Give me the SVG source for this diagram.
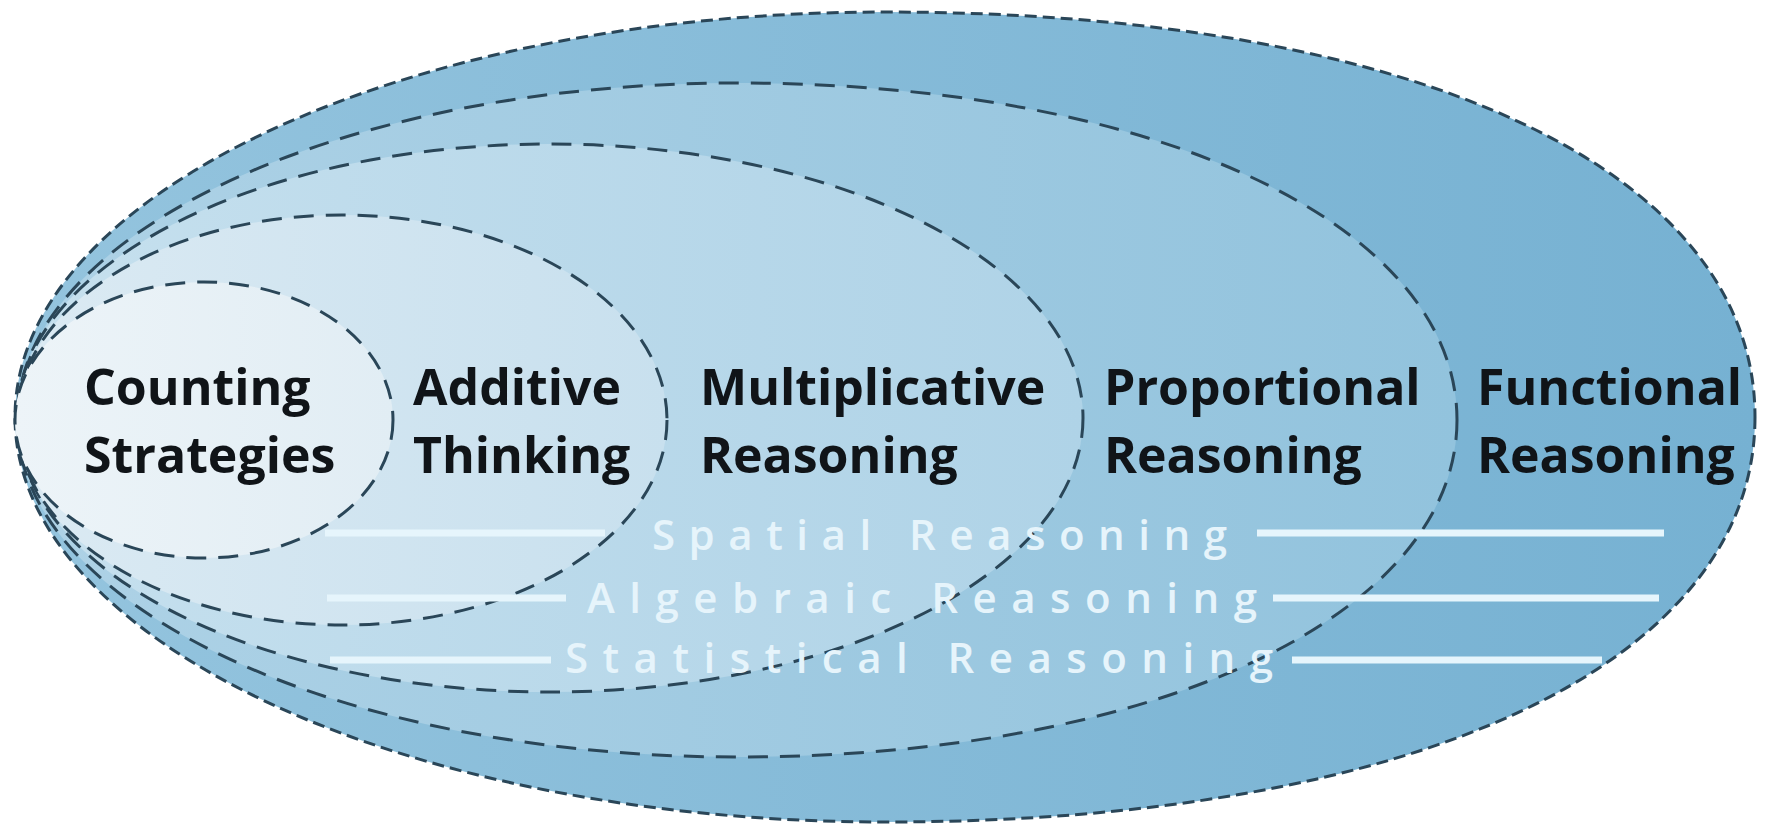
<svg xmlns="http://www.w3.org/2000/svg" width="1765" height="825" viewBox="0 0 1765 825">
<defs>
<linearGradient id="g1" x1="0" y1="0" x2="1" y2="0"><stop offset="0" stop-color="#94c4de"/><stop offset="1" stop-color="#76b1d2"/></linearGradient>
<linearGradient id="g2" x1="0" y1="0" x2="1" y2="0"><stop offset="0" stop-color="#aed2e6"/><stop offset="1" stop-color="#92c3dd"/></linearGradient>
<linearGradient id="g3" x1="0" y1="0" x2="1" y2="0"><stop offset="0" stop-color="#c6e0ee"/><stop offset="1" stop-color="#afd3e7"/></linearGradient>
<linearGradient id="g4" x1="0" y1="0" x2="1" y2="0"><stop offset="0" stop-color="#dbeaf3"/><stop offset="1" stop-color="#c8e0ee"/></linearGradient>
<linearGradient id="g5" x1="0" y1="0" x2="1" y2="0"><stop offset="0" stop-color="#edf4f8"/><stop offset="1" stop-color="#e1edf4"/></linearGradient>
</defs>
<style>
.ring{stroke:#2a4658;stroke-width:3;stroke-dasharray:20 12;}
.outer{stroke:#2a4658;stroke-width:3;stroke-dasharray:12 6;}
.rim{fill:none;stroke:#ffffff;stroke-opacity:0.35;stroke-width:8;}
.lbl{font-family:"Open Sans","Noto Sans","DejaVu Sans",sans-serif;font-weight:700;font-size:50px;fill:#101418;}
.strand{font-family:"Open Sans","Noto Sans","DejaVu Sans",sans-serif;font-weight:600;font-size:42px;fill:#e6f4fb;}
.band{stroke:#e6f5fc;stroke-width:7;stroke-linecap:butt;}
</style>
<rect width="1765" height="825" fill="#ffffff"/>
<g id="functional">
<path class="rim" d="M 1749,417 C 1749,660 1412,816 885,816 C 407,816 21,637 21,417 C 21,197 407,18 885,18 C 1412,18 1749,174 1749,417 Z"/>
<path class="outer" fill="url(#g1)" d="M 1755,417 C 1755,664 1415.7,822 885,822 C 404.5,822 15,640.7 15,417 C 15,193.3 404.5,12 885,12 C 1415.7,12 1755,170 1755,417 Z"/>
<text class="lbl" x="1477" y="405">Functional</text>
<text class="lbl" x="1477" y="473">Reasoning</text>
</g>
<g id="proportional">
<path class="ring" fill="url(#g2)" d="M 1457,420 C 1457,615.5 1154.6,757 737,757 C 339.3,757 17,606.1 17,420 C 17,233.9 339.3,83 737,83 C 1154.6,83 1457,224.5 1457,420 Z"/>
<text class="lbl" x="1104" y="405">Proportional</text>
<text class="lbl" x="1104" y="473">Reasoning</text>
</g>
<g id="multiplicative">
<ellipse class="ring" fill="url(#g3)" cx="550" cy="418" rx="533" ry="274"/>
<text class="lbl" x="700" y="405">Multiplicative</text>
<text class="lbl" x="700" y="473">Reasoning</text>
</g>
<g id="additive">
<ellipse class="ring" fill="url(#g4)" cx="342" cy="420" rx="325" ry="205"/>
<text class="lbl" x="413" y="405">Additive</text>
<text class="lbl" x="413" y="473">Thinking</text>
</g>
<g id="counting">
<ellipse class="ring" fill="url(#g5)" cx="204" cy="420" rx="189" ry="138"/>
<text class="lbl" x="84" y="405">Counting</text>
<text class="lbl" x="84" y="473">Strategies</text>
</g>
<g id="strands">
<line class="band" x1="325" y1="533" x2="605" y2="533"/>
<line class="band" x1="1257" y1="533" x2="1664" y2="533"/>
<text class="strand" x="652" y="550" textLength="575" lengthAdjust="spacing">Spatial Reasoning</text>
<line class="band" x1="327" y1="598" x2="566" y2="598"/>
<line class="band" x1="1273" y1="598" x2="1659" y2="598"/>
<text class="strand" x="587" y="613" textLength="670" lengthAdjust="spacing">Algebraic Reasoning</text>
<line class="band" x1="330" y1="660" x2="551" y2="660"/>
<line class="band" x1="1292" y1="660" x2="1602" y2="660"/>
<text class="strand" x="565" y="673" textLength="708" lengthAdjust="spacing">Statistical Reasoning</text>
</g>
</svg>
